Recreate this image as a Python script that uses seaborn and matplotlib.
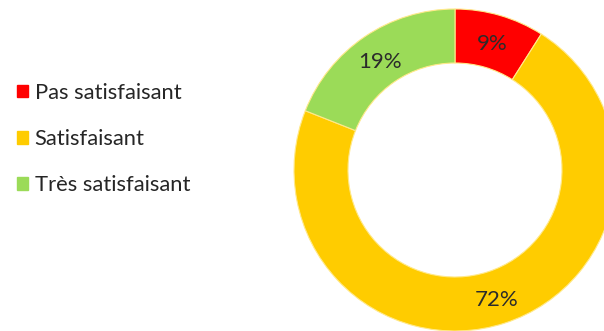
import matplotlib
matplotlib.use("Agg")
import matplotlib.pyplot as plt
import seaborn as sns
from matplotlib.patches import Patch

# Satisfaction survey results
categories = ["Pas satisfaisant", "Satisfaisant", "Très satisfaisant"]
shares = [9, 72, 19]
labels = ["9%", "72%", "19%"]
colors = ["#FF0000", "#FFCC00", "#9BDB58"]

sns.set_theme(style="white")
plt.rcParams["font.family"] = ["Lato", "DejaVu Sans"]

W, H = 604, 331
fig = plt.figure(figsize=(W / 100, H / 100), dpi=100)
ax = fig.add_axes([0, 0, 1, 1])

cx, cy, r_out, r_in = 455, H - 170, 161, 107
ring = r_out - r_in

wedges, texts = ax.pie(
    shares,
    colors=colors,
    startangle=90,
    counterclock=False,
    center=(cx, cy),
    radius=r_out,
    labels=labels,
    labeldistance=134 / r_out,
    wedgeprops=dict(width=ring, edgecolor="#FFE98A", linewidth=0.8),
    textprops=dict(fontsize=16, color="#2B2B2B", ha="center", va="center"),
)
# nudge the percentage labels so the digits sit optically centred in the ring
for t in texts:
    x, y = t.get_position()
    t.set_position((x, y - 3))

ax.set_xlim(0, W)
ax.set_ylim(0, H)
ax.set_aspect("equal")
ax.axis("off")

handles = [Patch(facecolor=c, edgecolor=c) for c in colors]
ax.legend(
    handles,
    categories,
    loc="upper left",
    bbox_to_anchor=(8 / W, 1 - 74 / H),
    frameon=False,
    fontsize=15.8,
    handlelength=0.52,
    handleheight=0.52,
    handletextpad=0.3,
    labelspacing=1.2,
    labelcolor="#262626",
    borderaxespad=0,
)

fig.savefig("out.png", dpi=100)
